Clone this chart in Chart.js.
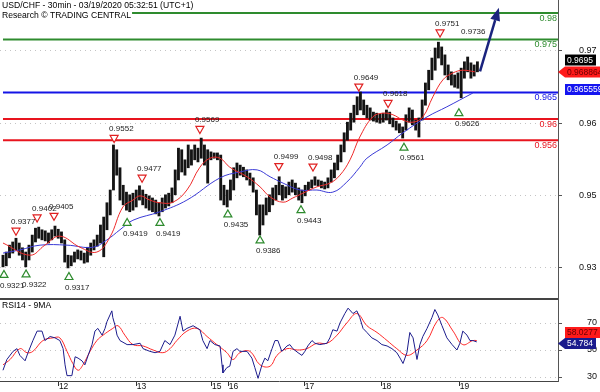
<!DOCTYPE html>
<html>
<head>
<meta charset="utf-8">
<title>USD/CHF 30min</title>
<style>
  body { margin: 0; background: #fff; }
  #wrap { position: relative; width: 600px; height: 392px; overflow: hidden; }
  #priceChart { position: absolute; left: 0; top: 0; }
  #rsiChart { position: absolute; left: 0; top: 299px; }
</style>
</head>
<body>
<div id="wrap">
  <canvas id="priceChart" width="600" height="299"></canvas>
  <canvas id="rsiChart" width="600" height="93"></canvas>
</div>
<script src="https://cdn.jsdelivr.net/npm/chart.js"></script>
<script>
// hourly bars, index = hours since the first bar
const barHigh = [
  0.9343,0.9349,0.9362,0.9368,0.9375,0.9366,0.9357,0.9349,0.9362,0.9381,
  0.9394,0.9396,0.9391,0.9389,0.9385,0.9391,0.9398,0.9392,0.9387,0.9372,
  0.9343,0.9342,0.9349,0.9353,0.9351,0.9347,0.9358,0.9366,0.9372,0.9381,
  0.9400,0.9415,0.9442,0.9466,0.9551,0.9542,0.9508,0.9475,0.9462,0.9457,
  0.9460,0.9466,0.9474,0.9466,0.9458,0.9455,0.9451,0.9447,0.9442,0.9451,
  0.9457,0.9460,0.9470,0.9504,0.9545,0.9542,0.9523,0.9551,0.9542,0.9551,
  0.9545,0.9564,0.9551,0.9542,0.9538,0.9536,0.9536,0.9532,0.9475,0.9466,
  0.9485,0.9508,0.9517,0.9513,0.9509,0.9504,0.9498,0.9489,0.9466,0.9438,
  0.9438,0.9451,0.9457,0.9470,0.9475,0.9491,0.9475,0.9472,0.9481,0.9485,
  0.9479,0.9470,0.9466,0.9475,0.9481,0.9485,0.9491,0.9485,0.9483,0.9481,
  0.9489,0.9504,0.9517,0.9532,0.9551,0.9574,0.9594,0.9611,0.9626,0.9642,
  0.9651,0.9636,0.9626,0.9621,0.9613,0.9611,0.9609,0.9611,0.9617,0.9613,
  0.9602,0.9596,0.9591,0.9585,0.9608,0.9621,0.9617,0.9598,0.9602,0.9636,
  0.9668,0.9692,0.9715,0.9734,0.9745,0.9736,0.9721,0.9702,0.9689,0.9683,
  0.9687,0.9696,0.9708,0.9717,0.9706,0.9702,0.9708
];
const barLow = [
  0.9321,0.9323,0.9338,0.9347,0.9353,0.9343,0.9334,0.9321,0.9334,0.9349,
  0.9368,0.9375,0.9372,0.9370,0.9366,0.9372,0.9379,0.9375,0.9366,0.9330,
  0.9319,0.9323,0.9330,0.9336,0.9334,0.9328,0.9330,0.9343,0.9353,0.9360,
  0.9366,0.9340,0.9391,0.9419,0.9466,0.9494,0.9447,0.9438,0.9428,0.9425,
  0.9428,0.9434,0.9447,0.9438,0.9432,0.9428,0.9425,0.9421,0.9417,0.9425,
  0.9432,0.9436,0.9442,0.9457,0.9485,0.9500,0.9494,0.9508,0.9513,0.9523,
  0.9519,0.9526,0.9513,0.9479,0.9523,0.9526,0.9523,0.9447,0.9438,0.9434,
  0.9447,0.9466,0.9489,0.9494,0.9491,0.9485,0.9475,0.9462,0.9419,0.9381,
  0.9400,0.9419,0.9425,0.9438,0.9447,0.9457,0.9447,0.9451,0.9457,0.9462,
  0.9457,0.9447,0.9442,0.9455,0.9466,0.9470,0.9475,0.9474,0.9470,0.9468,
  0.9470,0.9481,0.9489,0.9504,0.9519,0.9538,0.9560,0.9579,0.9594,0.9608,
  0.9617,0.9608,0.9602,0.9598,0.9596,0.9594,0.9592,0.9594,0.9598,0.9591,
  0.9585,0.9579,0.9574,0.9564,0.9579,0.9594,0.9589,0.9579,0.9566,0.9598,
  0.9626,0.9655,0.9674,0.9692,0.9715,0.9702,0.9683,0.9674,0.9664,0.9660,
  0.9658,0.9640,0.9677,0.9689,0.9677,0.9681,0.9689
];

// moving averages (hour, price)
const fastMaT = [0,8.3,12.9,17.5,23.7,28.9,32.9,36.9,40,42.2,45.2,48.3,52.3,56.6,60.6,63.7,66.8,69.8,75.1,79.1,82.2,86.2,89.2,92.3,96.6,100.6,103.7,106.8,109.8,113.8,116.9,120,123.1,126.2,129.2,132.3,135.4,138.5,141.5,145.2];
const fastMaV = [0.9366,0.9343,0.9362,0.9379,0.9358,0.9349,0.9377,0.9434,0.9447,0.9455,0.9447,0.9442,0.9443,0.9466,0.9509,0.9526,0.9526,0.9509,0.9491,0.9472,0.9453,0.9443,0.9451,0.9460,0.9472,0.9479,0.9494,0.9523,0.9566,0.9604,0.9611,0.9608,0.9598,0.9594,0.9604,0.9642,0.9674,0.9687,0.9692,0.9689];
const slowMaT = [0,5.2,11.4,19.7,27.7,32,36,40,48.3,56.6,66.8,72.9,78.2,82.2,86.2,91.4,96.6,101.5,105.8,109.8,112,118.2,123.1,130.5,136.6,144.6];
const slowMaV = [0.9347,0.9353,0.9362,0.9362,0.9358,0.9372,0.9391,0.9409,0.9425,0.9447,0.9489,0.9500,0.9504,0.9491,0.9479,0.9466,0.9466,0.9462,0.9481,0.9509,0.9526,0.9551,0.9574,0.9604,0.9623,0.9649];

// RSI14 and its 9MA (hour, value)
const rsiT = [0,1.2,3.1,4.3,5.2,6.8,7.7,9.2,10.5,12,12.9,14.5,16,17.5,18.5,19.1,19.7,21.2,22.2,23.1,24.3,25.2,26.2,27.4,28.3,29.2,30.5,31.4,32,33.5,33.8,34.5,35.1,36,38.2,40,42.2,43.1,45.2,46.8,48.3,49.8,51.4,52.9,54.5,55.4,56.6,58.5,60.6,61.5,62.8,63.7,65.2,66.8,67.4,67.7,68.9,69.8,70.8,72,72.9,75.1,76.6,77.5,78.5,79.7,80.6,81.5,82.8,83.7,84.6,85.8,87.4,88.3,89.2,90.8,92,92.9,93.8,95.1,96,97.5,99.7,100.6,101.5,102.8,103.7,105.2,106.2,107.7,108.9,109.8,110.8,112,113.5,115.1,116.6,118.2,119.7,121.2,122.2,123.1,124.3,125.2,126.2,127.4,128.3,129.2,130.5,132,132.9,133.8,135.1,136.6,138.2,139.7,140.6,141.5,142.8,143.7,144.6,145.8];
const rsiV = [35,43,49,51,46,42,48,57,64,64,57,60,59,57,51,39,31,31,45,44,42,39,46,54,64,66,61,66,71,79,74,68,61,57,54,54,55,51,49,48,49,57,54,61,75,64,66,68,65,57,51,57,54,53,39,33,37,38,49,51,49,49,44,37,29,39,44,42,51,57,57,49,53,54,51,48,46,49,53,57,55,54,55,59,65,64,70,77,81,77,79,74,66,63,59,57,54,53,51,48,44,40,48,63,59,43,54,60,66,74,80,76,68,59,54,50,55,64,61,57,57,56];
const rsiMaT = [0,2.2,5.2,7.4,9.2,12.3,15.4,17.5,19.7,21.5,23.1,24.6,26.8,28.9,30.8,33.8,35.4,37.5,40,43.1,46.2,49.2,51.4,53.5,56.6,59.7,62.8,65.8,68.9,70.8,72.9,76,79.1,82.2,84.3,87.4,90.5,93.5,96.6,99.7,102.8,105.8,108.9,112,115.1,118.2,121.2,124.3,127.4,130.5,133.5,135.4,138.5,141.5,144.6,145.8];
const rsiMaV = [39,43,51,48,49,57,59,59,49,40,35,39,49,57,61,66,68,61,54,53,50,48,51,57,64,66,60,54,48,43,48,49,39,38,46,51,50,51,55,55,61,70,77,68,63,57,51,46,50,57,71,74,64,54,57,57];

// day separators on the time axis (hour position, label)
const dayTickT = [17.2, 41.2, 64.3, 69.5, 92.9, 116.6, 140.6];
const dayLabels = ['12', '13', '15', '16', '17', '18', '19'];

// price axis ticks as printed on the chart
const priceTickVals = [0.9730, 0.9592, 0.9455, 0.9319];
const priceTickLabels = ['0.97', '0.96', '0.95', '0.93'];
const rsiTickVals = [30, 50, 70];

// support / resistance levels
const levelVals = [0.98, 0.975, 0.965, 0.96, 0.956];
const levelLabels = ['0.98', '0.975', '0.965', '0.96', '0.956'];

// swing highs and lows marked on the chart
const peakT = [4, 10.5, 15.7, 34.2, 42.8, 60.6, 84.9, 95.4, 109.5, 118.5, 134.5];
const peakVal = [0.9377, 0.9402, 0.9405, 0.9552, 0.9477, 0.9569, 0.9499, 0.9498, 0.9649, 0.9618, 0.9751];
const troughT = [0.3, 7.1, 20.3, 38.2, 48.3, 69.2, 79.1, 91.7, 123.4, 140.3];
const troughVal = [0.9321, 0.9322, 0.9317, 0.9419, 0.9419, 0.9435, 0.9386, 0.9443, 0.9561, 0.9626];
const lastSwingT = 142.5, lastSwingVal = 0.9736;

// forecast arrow (hour, price)
const arrowT = [146.8, 152.6];
const arrowVal = [0.9690, 0.9810];

// last values shown in the right margin
const lastClose = '0.9695', lastFastMa = '0.968864', lastSlowMa = '0.965559';
const lastRsiMa = '58.0277', lastRsi = '54.784';

const FONT = "'Liberation Sans', Arial, sans-serif";
const X_MIN = -0.92, X_MAX = 170.8;
const levelColors = ['#2e8b2e', '#2e8b2e', '#1414e6', '#e8141e', '#e8141e'];

Chart.defaults.font.family = FONT;
Chart.defaults.color = '#111';

function pts(ts, vs) { return ts.map((t, i) => ({ x: t, y: vs[i] })); }

function fixWidth(w) {
  return function (scale) { scale.width = w; scale.paddingTop = 0; scale.paddingBottom = 0; };
}

function tag(ctx, yc, text, bg, fg, pointer) {
  const left = 565, h = 11;
  ctx.font = '8.5px ' + FONT;
  const w = ctx.measureText(text).width + 5;
  ctx.fillStyle = bg;
  ctx.beginPath();
  if (pointer) {
    ctx.moveTo(558, yc);
    ctx.lineTo(left, yc - h / 2);
  } else {
    ctx.moveTo(left, yc - h / 2);
  }
  ctx.lineTo(left + w, yc - h / 2);
  ctx.lineTo(left + w, yc + h / 2);
  ctx.lineTo(left, yc + h / 2);
  ctx.closePath();
  ctx.fill();
  ctx.fillStyle = fg;
  ctx.textAlign = 'left';
  ctx.textBaseline = 'middle';
  ctx.fillText(text, left + 2, yc + 0.5);
}

function triangle(ctx, cx, cy, down, color) {
  const hw = 4, hh = 3.5;
  ctx.beginPath();
  if (down) {
    ctx.moveTo(cx - hw, cy - hh); ctx.lineTo(cx + hw, cy - hh); ctx.lineTo(cx, cy + hh);
  } else {
    ctx.moveTo(cx - hw, cy + hh); ctx.lineTo(cx + hw, cy + hh); ctx.lineTo(cx, cy - hh);
  }
  ctx.closePath();
  ctx.fillStyle = '#fff';
  ctx.fill();
  ctx.strokeStyle = color;
  ctx.lineWidth = 1.2;
  ctx.stroke();
}

const priceOverlay = {
  id: 'priceOverlay',
  afterDraw(chart) {
    const { ctx, chartArea: area } = chart;
    const x = chart.scales.x, y = chart.scales.y;
    ctx.save();

    // level captions under each line
    ctx.font = '9px ' + FONT;
    ctx.textAlign = 'right';
    ctx.textBaseline = 'middle';
    levelVals.forEach((v, i) => {
      ctx.fillStyle = levelColors[i];
      ctx.fillText(levelLabels[i], area.right - 1, y.getPixelForValue(v) + 5.5);
    });

    // swing markers
    ctx.font = '8px ' + FONT;
    peakT.forEach((t, i) => {
      const px = x.getPixelForValue(t), py = y.getPixelForValue(peakVal[i]) - 5.5;
      triangle(ctx, px, py, true, '#e02020');
      ctx.fillStyle = '#222';
      ctx.textAlign = 'left';
      ctx.fillText(peakVal[i].toFixed(4), px - 5, py - 10);
    });
    troughT.forEach((t, i) => {
      const px = x.getPixelForValue(t), py = y.getPixelForValue(troughVal[i]) + 7;
      triangle(ctx, px, py, false, '#2e8b2e');
      ctx.fillStyle = '#222';
      ctx.textAlign = 'left';
      ctx.fillText(troughVal[i].toFixed(4), px - 4, py + 11.5);
    });
    ctx.fillStyle = '#222';
    ctx.fillText(lastSwingVal.toFixed(4), x.getPixelForValue(lastSwingT) - 5,
      y.getPixelForValue(lastSwingVal) - 15.5);

    // forecast arrow
    const x0 = x.getPixelForValue(arrowT[0]), y0 = y.getPixelForValue(arrowVal[0]);
    const x1 = x.getPixelForValue(arrowT[1]), y1 = y.getPixelForValue(arrowVal[1]);
    const ang = Math.atan2(y1 - y0, x1 - x0);
    const headLen = 13, headW = 5;
    const bx = x1 - headLen * Math.cos(ang), by = y1 - headLen * Math.sin(ang);
    ctx.strokeStyle = '#1a237e';
    ctx.fillStyle = '#1a237e';
    ctx.lineWidth = 2.5;
    ctx.beginPath(); ctx.moveTo(x0, y0); ctx.lineTo(bx, by); ctx.stroke();
    ctx.beginPath();
    ctx.moveTo(x1, y1);
    ctx.lineTo(bx - headW * Math.sin(ang), by + headW * Math.cos(ang));
    ctx.lineTo(bx + headW * Math.sin(ang), by - headW * Math.cos(ang));
    ctx.closePath(); ctx.fill();

    // header
    ctx.font = '8.6px ' + FONT;
    ctx.textAlign = 'left';
    ctx.textBaseline = 'middle';
    const l1 = 'USD/CHF - 30min - 03/19/2020 05:32:51 (UTC+1)';
    const l2 = 'Research \u00A9 TRADING CENTRAL';
    ctx.fillStyle = '#fff';
    ctx.fillRect(0, 0, ctx.measureText(l1).width + 3, 11);
    ctx.fillRect(0, 11, ctx.measureText(l2).width + 3, 10);
    ctx.fillStyle = '#000';
    ctx.fillText(l1, 2, 6);
    ctx.fillText(l2, 2, 16);

    // bottom frame of the price pane
    ctx.strokeStyle = '#444';
    ctx.lineWidth = 1;
    ctx.beginPath(); ctx.moveTo(0, area.bottom - 0.5); ctx.lineTo(area.right, area.bottom - 0.5); ctx.stroke();

    // last value tags
    const yBlue = y.getPixelForValue(parseFloat(lastSlowMa));
    const yRed = Math.min(y.getPixelForValue(parseFloat(lastFastMa)), yBlue - 12);
    const yBlack = Math.min(y.getPixelForValue(parseFloat(lastClose)), yRed - 12);
    tag(ctx, yBlack, lastClose, '#000', '#fff', false);
    tag(ctx, yRed, lastFastMa, '#ff1a1a', '#6a0000', true);
    tag(ctx, yBlue, lastSlowMa, '#1414f0', '#fff', false);
    ctx.restore();
  }
};

const rsiOverlay = {
  id: 'rsiOverlay',
  afterDraw(chart) {
    const { ctx, chartArea: area } = chart;
    const y = chart.scales.y;
    ctx.save();
    ctx.strokeStyle = '#444';
    ctx.lineWidth = 1;
    ctx.beginPath(); ctx.moveTo(0, area.top + 0.5); ctx.lineTo(area.right, area.top + 0.5); ctx.stroke();
    ctx.font = '8.6px ' + FONT;
    ctx.fillStyle = '#000';
    ctx.textAlign = 'left';
    ctx.textBaseline = 'middle';
    ctx.fillText('RSI14 - 9MA', 2, 6.5);
    const yNavy = y.getPixelForValue(parseFloat(lastRsi));
    const yRed = Math.min(y.getPixelForValue(parseFloat(lastRsiMa)), yNavy - 11);
    tag(ctx, yRed, lastRsiMa, '#ff1a1a', '#6a0000', false);
    tag(ctx, yNavy, lastRsi, '#1a1a8c', '#fff', true);
    ctx.restore();
  }
};

const lineSet = (data, color, width, tension, order) => ({
  type: 'line', data, borderColor: color, borderWidth: width, pointRadius: 0,
  tension, fill: false, order
});

new Chart(document.getElementById('priceChart'), {
  type: 'bar',
  data: {
    datasets: [
      ...levelVals.map((v, i) => lineSet([{ x: 0, y: v }, { x: X_MAX, y: v }], levelColors[i], 2, 0, 5)),
      {
        type: 'bar',
        data: barLow.map((lo, i) => ({ x: i, y: [lo, barHigh[i]] })),
        backgroundColor: '#141414',
        barThickness: 2.2,
        order: 3
      },
      lineSet(pts(slowMaT, slowMaV), '#3a3ad6', 1, 0.4, 2),
      lineSet(pts(fastMaT, fastMaV), '#ee2a2a', 1, 0.4, 1)
    ]
  },
  options: {
    responsive: false,
    animation: false,
    events: [],
    layout: { padding: 0 },
    plugins: { legend: { display: false }, tooltip: { enabled: false } },
    scales: {
      x: { type: 'linear', min: X_MIN, max: X_MAX, offset: false, display: false },
      y: {
        position: 'right',
        min: 0.926038, max: 0.982453,
        afterFit: fixWidth(42),
        afterBuildTicks: s => { s.ticks = priceTickVals.map(v => ({ value: v })); },
        ticks: { callback: (v, i) => priceTickLabels[i], padding: 17, font: { size: 9 }, color: '#111' },
        grid: { color: '#c4c4c4', tickLength: 4, tickColor: '#555' },
        border: { display: true, color: '#555', dash: [1, 4] }
      }
    }
  },
  plugins: [priceOverlay]
});

new Chart(document.getElementById('rsiChart'), {
  type: 'line',
  data: {
    datasets: [
      lineSet(pts(rsiMaT, rsiMaV), '#ff2a2a', 1, 0.4, 2),
      lineSet(pts(rsiT, rsiV), '#1c1c8c', 1, 0, 1)
    ]
  },
  options: {
    responsive: false,
    animation: false,
    events: [],
    layout: { padding: 0 },
    plugins: { legend: { display: false }, tooltip: { enabled: false } },
    scales: {
      x: {
        type: 'linear', min: X_MIN, max: X_MAX, offset: false,
        afterFit: s => { s.height = 11; s.paddingLeft = 0; s.paddingRight = 0; },
        afterBuildTicks: s => { s.ticks = dayTickT.map(v => ({ value: v })); },
        ticks: { callback: (v, i) => dayLabels[i], autoSkip: false, maxRotation: 0, align: 'start', padding: -4, font: { size: 8.5 }, color: '#111' },
        grid: { drawOnChartArea: false, tickLength: 5, tickColor: '#333' },
        border: { display: true, color: '#444' }
      },
      y: {
        position: 'right',
        min: 27.04, max: 87.78,
        afterFit: fixWidth(42),
        afterBuildTicks: s => { s.ticks = rsiTickVals.map(v => ({ value: v })); },
        ticks: { padding: 25, font: { size: 9 }, color: '#111' },
        grid: { color: '#c4c4c4', tickLength: 4, tickColor: '#555' },
        border: { display: true, color: '#555', dash: [1, 4] }
      }
    }
  },
  plugins: [rsiOverlay]
});
</script>
</body>
</html>
